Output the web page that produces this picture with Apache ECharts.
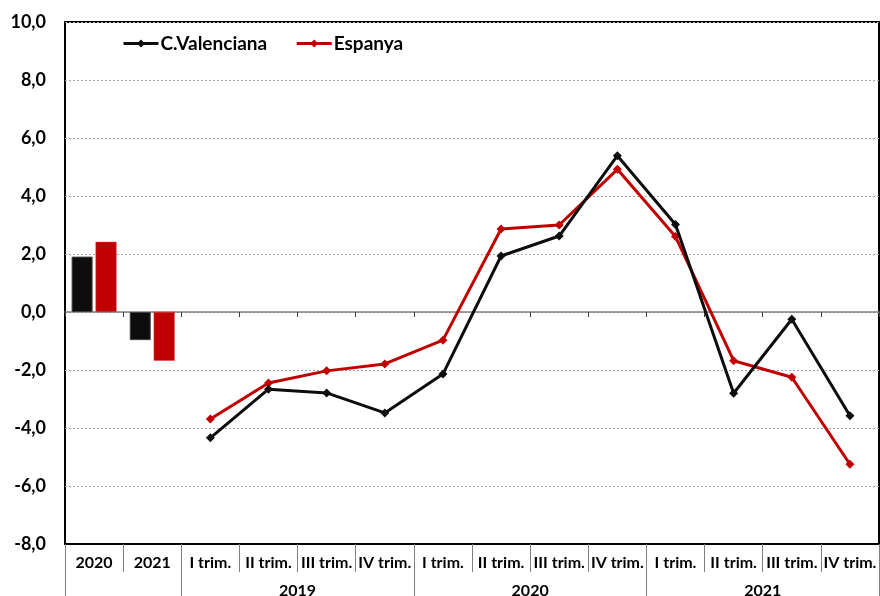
<!DOCTYPE html>
<html>
<head>
<meta charset="utf-8">
<script src="https://cdn.jsdelivr.net/npm/echarts@6/dist/echarts.min.js"></script>
<style>html,body{margin:0;padding:0;background:#fff}#c{width:880px;height:596px}</style>
</head>
<body>
<div id="c"></div>
<script>
var categories = ['2020', '2021', 'I trim.', 'II trim.', 'III trim.', 'IV trim.', 'I trim.', 'II trim.', 'III trim.', 'IV trim.', 'I trim.', 'II trim.', 'III trim.', 'IV trim.'];
var yearGroups = ['2019', '2020', '2021'];
var yearGroupCenters = [4, 8, 12];
var yearGroupBounds = [0, 2, 6, 10, 14];
var barValencia = [1.91, -0.97];
var barEspanya = [2.42, -1.68];
var lineValencia = [-4.34, -2.66, -2.79, -3.48, -2.14, 1.93, 2.62, 5.39, 3.02, -2.80, -0.25, -3.58];
var lineEspanya = [-3.69, -2.45, -2.03, -1.79, -0.97, 2.86, 3.00, 4.92, 2.60, -1.68, -2.25, -5.25];
var yMin = -8, yMax = 10, yStep = 2;

function pad(arr, before, total) {
  var out = [];
  for (var i = 0; i < total; i++) {
    var j = i - before;
    out.push(j >= 0 && j < arr.length ? arr[j] : '-');
  }
  return out;
}
var N = categories.length;
var font = 'Lato, "Open Sans", sans-serif';

var chart = echarts.init(document.getElementById('c'), null, {renderer: 'canvas'});
chart.setOption({
  animation: false,
  textStyle: {fontFamily: font},
  grid: {left: 65, right: 1, top: 22, bottom: 52, outerBoundsMode: 'none', containLabel: false, show: true, borderColor: '#000', borderWidth: 2, backgroundColor: 'transparent'},
  legend: {
    data: ['C.Valenciana', 'Espanya'],
    left: 117, top: 29,
    itemWidth: 35, itemHeight: 10, itemGap: 28,
    lineStyle: {width: 3},
    textStyle: {fontFamily: font, fontWeight: 'bold', fontSize: 19, color: '#000', padding: [0, 0, 0, -3]}
  },
  xAxis: [
    {
      type: 'category', data: categories, position: 'bottom',
      axisLine: {onZero: true, lineStyle: {color: '#808080', width: 1.5}},
      axisTick: {show: true, length: 5, lineStyle: {color: '#404040'}},
      axisLabel: {show: false}, splitLine: {show: false}
    },
    {
      type: 'category', data: categories, position: 'bottom',
      axisLine: {onZero: false, show: true, lineStyle: {color: '#000', width: 2}},
      axisTick: {show: true, length: 28, lineStyle: {color: '#808080', width: 1}},
      axisLabel: {margin: 11, interval: 0, fontFamily: font, fontWeight: 'bold', fontSize: 16, color: '#000'},
      splitLine: {show: false}
    },
    {
      type: 'value', min: 0, max: N, position: 'bottom', offset: 28,
      axisLine: {show: false, onZero: false},
      axisTick: {show: true, length: 24, customValues: yearGroupBounds, lineStyle: {color: '#808080', width: 1}},
      axisLabel: {
        margin: 11, customValues: yearGroupCenters, hideOverlap: false,
        formatter: function (v) { var k = yearGroupCenters.indexOf(v); return k >= 0 ? yearGroups[k] : ''; },
        fontFamily: font, fontWeight: 'bold', fontSize: 16, color: '#000'
      },
      splitLine: {show: false}
    }
  ],
  yAxis: {
    type: 'value', min: yMin, max: yMax, interval: yStep,
    axisLine: {show: false}, axisTick: {show: false},
    axisLabel: {
      margin: 19, fontFamily: font, fontWeight: 'bold', fontSize: 18, color: '#000',
      formatter: function (v) { return v.toFixed(1).replace('.', ','); }
    },
    splitLine: {show: true, lineStyle: {color: '#a6a6a6', type: [2, 2], width: 1}}
  },
  series: [
    {
      name: 'C.Valenciana (any)', type: 'bar', xAxisIndex: 1,
      data: pad(barValencia, 0, N), barWidth: 21, barGap: '14%',
      itemStyle: {color: '#0d0d0d', borderColor: '#404040', borderWidth: 1}
    },
    {
      name: 'Espanya (any)', type: 'bar', xAxisIndex: 1,
      data: pad(barEspanya, 0, N), barWidth: 21,
      itemStyle: {color: '#c00000', borderColor: '#e04040', borderWidth: 0.5}
    },
    {
      name: 'C.Valenciana', type: 'line', xAxisIndex: 1,
      data: pad(lineValencia, 2, N),
      symbol: 'diamond', symbolSize: 9, showSymbol: true,
      lineStyle: {color: '#0d0d0d', width: 3},
      itemStyle: {color: '#0d0d0d'}, z: 4
    },
    {
      name: 'Espanya', type: 'line', xAxisIndex: 1,
      data: pad(lineEspanya, 2, N),
      symbol: 'diamond', symbolSize: 9, showSymbol: true,
      lineStyle: {color: '#c00000', width: 3},
      itemStyle: {color: '#c00000'}, z: 3
    }
  ]
});
</script>
</body>
</html>
